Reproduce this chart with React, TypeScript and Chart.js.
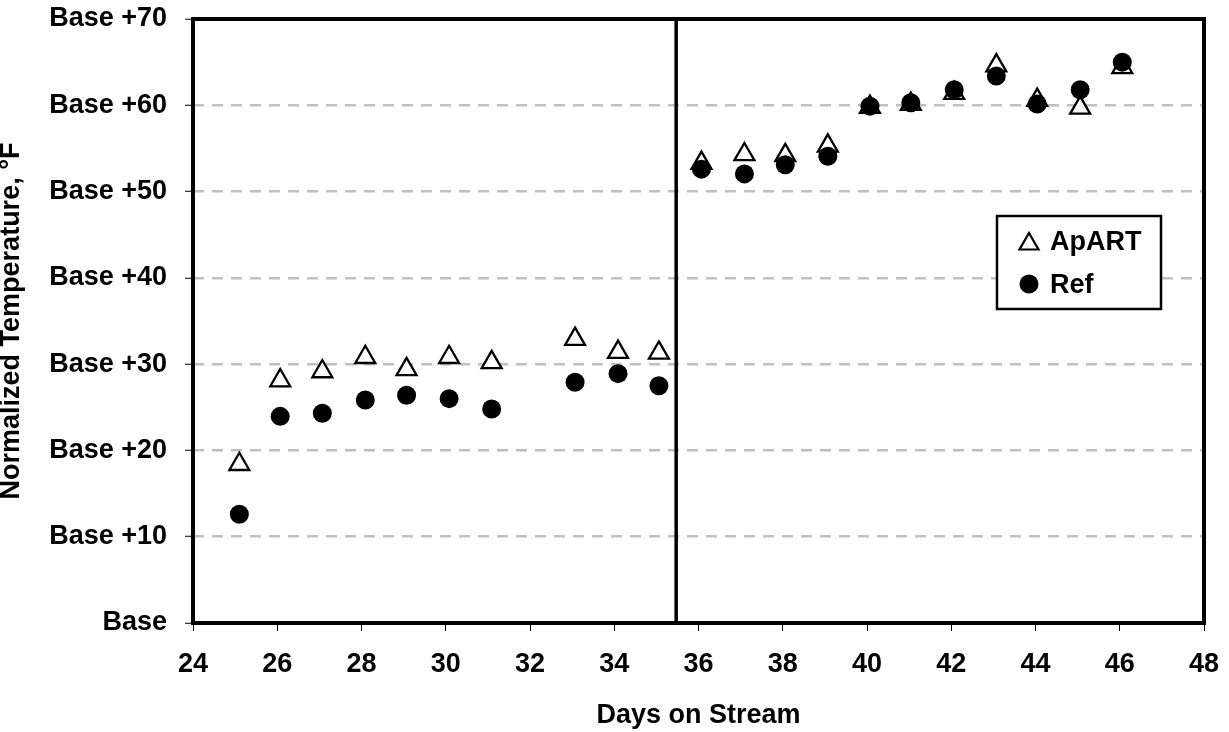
import React, { useEffect, useRef } from 'react';
import { Chart, registerables } from 'chart.js';

Chart.register(...registerables);

// ---- data ----
const days = [25.1, 26.07, 27.07, 28.09, 29.07, 30.08, 31.09, 33.07, 34.09, 35.06, 36.07, 37.09, 38.06, 39.07, 40.07, 41.04, 42.07, 43.07, 44.04, 45.06, 46.06];
const apartValues = [18.4, 28.1, 29.15, 30.8, 29.4, 30.8, 30.2, 32.9, 31.4, 31.3, 53.3, 54.3, 54.2, 55.3, 59.8, 60.15, 61.4, 64.6, 60.6, 59.7, 64.4];
const refValues = [12.6, 23.95, 24.3, 25.85, 26.4, 26.0, 24.8, 27.9, 28.9, 27.5, 52.6, 52.05, 53.1, 54.1, 59.9, 60.3, 61.8, 63.4, 60.15, 61.8, 65.0];
const xTickValues = [24, 26, 28, 30, 32, 34, 36, 38, 40, 42, 44, 46, 48];
const yTickValues = [0, 10, 20, 30, 40, 50, 60, 70];
const yTickLabels = ['Base', 'Base +10', 'Base +20', 'Base +30', 'Base +40', 'Base +50', 'Base +60', 'Base +70'];
const dividerDay = 35.47;
const seriesNames = ['ApART', 'Ref'];

const FONT = "'Liberation Sans', Arial, sans-serif";

const framePlugin = {
  id: 'frameAndLegend',
  afterDraw(chart: any) {
    const { ctx, chartArea } = chart;
    ctx.save();
    // plot frame
    ctx.strokeStyle = '#000';
    ctx.lineWidth = 4;
    ctx.strokeRect(chartArea.left, chartArea.top, chartArea.right - chartArea.left, chartArea.bottom - chartArea.top);

    // legend box
    const bx = chartArea.right - 207;
    const by = chartArea.top + 197;
    const bw = 164;
    const bh = 93;
    ctx.fillStyle = '#fff';
    ctx.fillRect(bx, by, bw, bh);
    ctx.lineWidth = 2.5;
    ctx.strokeRect(bx, by, bw, bh);

    // triangle marker
    const tx = bx + 32;
    const ty = by + 28;
    const r = 11;
    ctx.beginPath();
    for (let k = 0; k < 3; k++) {
      const a = (k * 2 * Math.PI) / 3;
      const px = tx + Math.sin(a) * r;
      const py = ty - Math.cos(a) * r;
      if (k === 0) ctx.moveTo(px, py); else ctx.lineTo(px, py);
    }
    ctx.closePath();
    ctx.fillStyle = '#fff';
    ctx.fill();
    ctx.lineWidth = 2.2;
    ctx.strokeStyle = '#000';
    ctx.stroke();

    // circle marker
    ctx.beginPath();
    ctx.arc(tx, by + 68, 9.5, 0, Math.PI * 2);
    ctx.fillStyle = '#000';
    ctx.fill();

    ctx.fillStyle = '#000';
    ctx.font = `bold 27px ${FONT}`;
    ctx.textBaseline = 'alphabetic';
    ctx.textAlign = 'left';
    ctx.fillText(seriesNames[0], bx + 53, by + 34);
    ctx.fillText(seriesNames[1], bx + 53, by + 77);
    ctx.restore();
  },
};

export default function App() {
  const canvasRef = useRef<HTMLCanvasElement | null>(null);

  useEffect(() => {
    const canvas = canvasRef.current;
    if (!canvas) return;
    const chart = new Chart(canvas, {
      type: 'scatter',
      data: {
        datasets: [
          {
            label: seriesNames[1],
            data: days.map((d, i) => ({ x: d, y: refValues[i] })),
            pointStyle: 'circle',
            pointRadius: 9.5,
            pointBackgroundColor: '#000',
            pointBorderColor: '#000',
            pointBorderWidth: 0,
            showLine: false,
          },
          {
            label: seriesNames[0],
            data: days.map((d, i) => ({ x: d, y: apartValues[i] })),
            pointStyle: 'triangle',
            pointRadius: 11.5,
            pointBackgroundColor: '#fff',
            pointBorderColor: '#000',
            pointBorderWidth: 2.3,
            showLine: false,
          },
          {
            label: 'divider',
            data: [
              { x: dividerDay, y: yTickValues[0] },
              { x: dividerDay, y: yTickValues[yTickValues.length - 1] },
            ],
            showLine: true,
            borderColor: '#000',
            borderWidth: 3.5,
            pointRadius: 0,
            fill: false,
          },
        ],
      },
      options: {
        responsive: false,
        animation: false,
        events: [],
        layout: { padding: { top: 19, right: 25, left: 0, bottom: 0 } },
        plugins: {
          legend: { display: false },
          tooltip: { enabled: false },
          title: { display: false },
        },
        scales: {
          x: {
            type: 'linear',
            min: xTickValues[0],
            max: xTickValues[xTickValues.length - 1],
            afterBuildTicks: (scale: any) => {
              scale.ticks = xTickValues.map((v) => ({ value: v }));
            },
            afterFit: (scale: any) => {
              scale.height = 109;
              scale.paddingLeft = 0;
              scale.paddingRight = 0;
            },
            grid: {
              drawOnChartArea: false,
              drawTicks: true,
              tickLength: 8,
              tickColor: '#000',
              tickWidth: 1,
            },
            border: { display: false },
            ticks: {
              color: '#000',
              font: { family: FONT, size: 27, weight: 'bold' },
              padding: 17,
              maxRotation: 0,
              autoSkip: false,
            },
            title: {
              display: true,
              text: 'Days on Stream',
              color: '#000',
              font: { family: FONT, size: 27, weight: 'bold', lineHeight: 1 },
              padding: { top: 0, bottom: 2.5 },
            },
          },
          y: {
            type: 'linear',
            min: yTickValues[0],
            max: yTickValues[yTickValues.length - 1],
            afterBuildTicks: (scale: any) => {
              scale.ticks = yTickValues.map((v) => ({ value: v }));
            },
            afterFit: (scale: any) => {
              scale.width = 193;
              scale.paddingTop = 0;
              scale.paddingBottom = 0;
            },
            grid: {
              color: (ctx: any) => {
                const v = ctx.tick ? ctx.tick.value : 0;
                return v === yTickValues[0] || v === yTickValues[yTickValues.length - 1] ? 'rgba(0,0,0,0)' : '#c0c0c0';
              },
              lineWidth: 2.5,
              drawTicks: true,
              tickLength: 8,
              tickColor: '#000',
              tickWidth: 1,
              tickBorderDash: [],
            },
            border: { display: false, dash: [11, 8] },
            ticks: {
              color: '#000',
              font: { family: FONT, size: 27, weight: 'bold' },
              padding: 18,
              autoSkip: false,
              callback: (_v: any, i: number) => yTickLabels[i],
            },
            title: {
              display: true,
              text: 'Normalized Temperature, °F',
              color: '#000',
              font: { family: FONT, size: 27, weight: 'bold', lineHeight: 0.66 },
              padding: { top: 2.5, bottom: 0 },
            },
          },
        },
      },
      plugins: [framePlugin],
    } as any);
    return () => chart.destroy();
  }, []);

  return (
    <div style={{ position: 'absolute', left: 0, top: 0, width: 1229, height: 732, background: '#fff' }}>
      <canvas ref={canvasRef} width={1229} height={732} style={{ display: 'block' }} />
    </div>
  );
}
